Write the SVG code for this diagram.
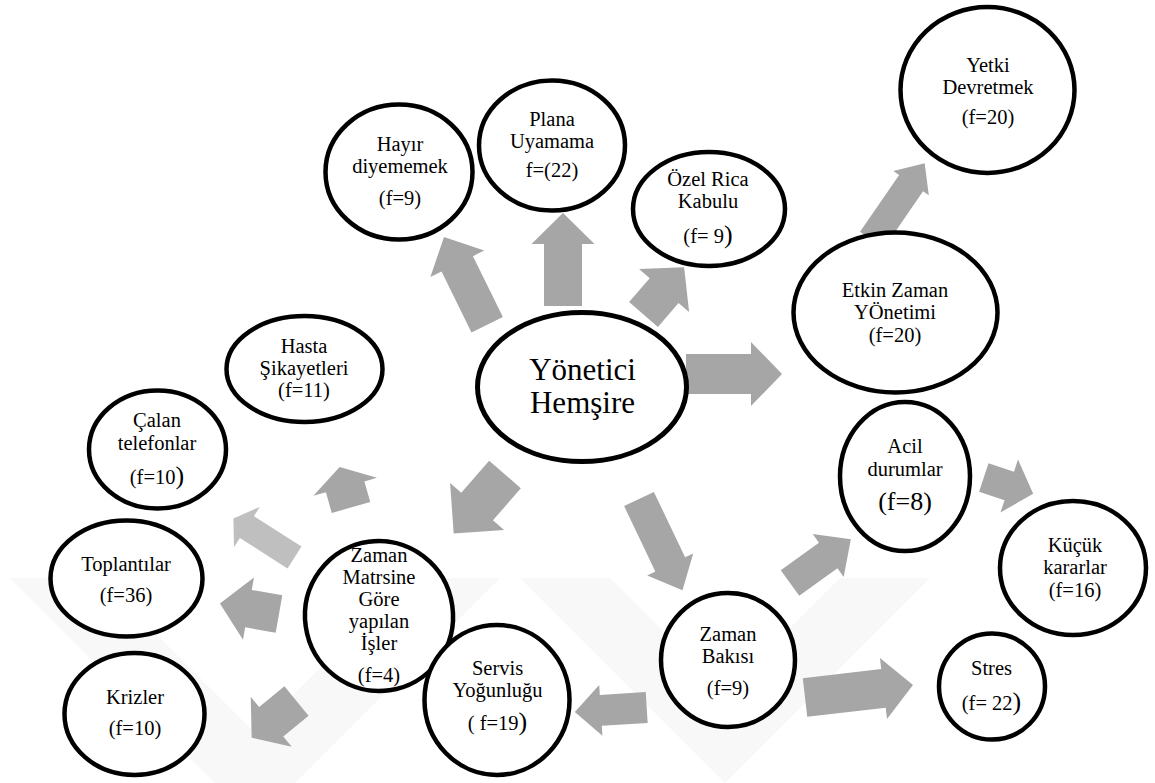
<svg xmlns="http://www.w3.org/2000/svg" width="1155" height="783" viewBox="0 0 1155 783">
<style>
.wm{fill:#f8f8f8;stroke:none}
.ar{fill:#a6a6a6;stroke:none}
.arl{fill:#bfbfbf;stroke:none}
.nd{fill:#ffffff;stroke:#000000;stroke-width:4.5}
.tx{font-size:20.5px;fill:#000;text-anchor:middle}
.big{font-size:31px}
.par{font-size:26px}
</style>
<rect width="1155" height="783" fill="#ffffff"/>
<g id="watermark">
<polygon class="wm" points="10,578 100,578 255,733 410,578 500,578 295,783 215,783"/>
<polygon class="wm" points="520,578 610,578 725,693 840,578 930,578 725,783"/>
</g>
<g id="connectors">
<polygon class="ar" transform="translate(487.2,324.7) rotate(-116.2)" points="0,-17.5 67.8,-17.5 67.8,-30 97.8,0 67.8,30 67.8,17.5 0,17.5"/>
<polygon class="ar" transform="translate(563,306) rotate(-90)" points="0,-19 62,-19 62,-31.5 93,0 62,31.5 62,19 0,19"/>
<polygon class="ar" transform="translate(643.5,314.5) rotate(-49.3)" points="0,-19 31.6,-19 31.6,-33 62.3,0 31.6,33 31.6,19 0,19"/>
<polygon class="ar" transform="translate(686,374) rotate(0)" points="0,-20 65,-20 65,-32 96,0 65,32 65,20 0,20"/>
<polygon class="ar" transform="translate(872,240) rotate(-55.5)" points="0,-14.5 69,-14.5 69,-21.5 93,0 69,21.5 69,14.5 0,14.5"/>
<polygon class="ar" transform="translate(505,474.5) rotate(131)" points="0,-21 42.5,-21 42.5,-35.8 78.2,0 42.5,35.8 42.5,21 0,21"/>
<polygon class="ar" transform="translate(639,499) rotate(64.5)" points="0,-16.5 72.5,-16.5 72.5,-25.5 101,0 72.5,25.5 72.5,16.5 0,16.5"/>
<polygon class="ar" transform="translate(351,507.5) rotate(254.3)" points="0,-20 21.5,-20 21.5,-33 42,0 21.5,33 21.5,20 0,20"/>
<polygon class="arl" transform="translate(294.5,557.5) rotate(212.6)" points="0,-13 56.5,-13 56.5,-24 72.5,0 56.5,24 56.5,13 0,13"/>
<polygon class="ar" transform="translate(279,614) rotate(190)" points="0,-19 31,-19 31,-31.5 60,0 31,31.5 31,19 0,19"/>
<polygon class="ar" transform="translate(296.5,701) rotate(140.6)" points="0,-19 32.7,-19 32.7,-32.3 58,0 32.7,32.3 32.7,19 0,19"/>
<polygon class="ar" transform="translate(646.7,707.5) rotate(176.4)" points="0,-15.5 46,-15.5 46,-25.5 72,0 46,25.5 46,15.5 0,15.5"/>
<polygon class="ar" transform="translate(805,697.5) rotate(-6.6)" points="0,-19.5 79,-19.5 79,-30.7 108.7,0 79,30.7 79,19.5 0,19.5"/>
<polygon class="ar" transform="translate(790,583) rotate(-35.8)" points="0,-15.8 47.1,-15.8 47.1,-26.5 75,0 47.1,26.5 47.1,15.8 0,15.8"/>
<polygon class="ar" transform="translate(983.8,477.5) rotate(18.3)" points="0,-15 26.8,-15 26.8,-27.9 52,0 26.8,27.9 26.8,15 0,15"/>
</g>
<g font-family="'Liberation Serif', 'Times New Roman', 'DejaVu Serif', serif">
<g id="yonetici">
<ellipse class="nd" cx="582" cy="387" rx="104.5" ry="74.5" style="stroke-width:5"/>
<text class="tx big" x="582.5" y="380">Yönetici</text>
<text class="tx big" x="582.5" y="413">Hemşire</text>
</g>
<g id="hayir">
<ellipse class="nd" cx="399" cy="172" rx="73.5" ry="67.5"/>
<text class="tx" x="400" y="151">Hayır</text>
<text class="tx" x="400" y="173">diyememek</text>
<text class="tx" x="400" y="205">(f=9)</text>
</g>
<g id="plana">
<ellipse class="nd" cx="552" cy="145.5" rx="73" ry="65"/>
<text class="tx" x="552" y="126">Plana</text>
<text class="tx" x="552" y="148">Uyamama</text>
<text class="tx" x="552" y="177">f=(22)</text>
</g>
<g id="ozel">
<ellipse class="nd" cx="709" cy="209" rx="76" ry="57"/>
<text class="tx" x="708" y="186">Özel Rica</text>
<text class="tx" x="708" y="208">Kabulu</text>
<text class="tx" x="708" y="243">(f= 9<tspan class="par">)</tspan></text>
</g>
<g id="yetki">
<ellipse class="nd" cx="987.5" cy="90" rx="87" ry="83"/>
<text class="tx" x="988" y="72">Yetki</text>
<text class="tx" x="988" y="94">Devretmek</text>
<text class="tx" x="988" y="124">(f=20)</text>
</g>
<g id="etkin">
<ellipse class="nd" cx="895.5" cy="312.5" rx="102" ry="80"/>
<text class="tx" x="895" y="297">Etkin Zaman</text>
<text class="tx" x="895" y="319">YÖnetimi</text>
<text class="tx" x="895" y="342">(f=20)</text>
</g>
<g id="hasta">
<ellipse class="nd" cx="304.5" cy="369" rx="78" ry="53"/>
<text class="tx" x="304" y="353">Hasta</text>
<text class="tx" x="304" y="375">Şikayetleri</text>
<text class="tx" x="304" y="397">(f=11)</text>
</g>
<g id="calan">
<ellipse class="nd" cx="157.5" cy="449.5" rx="68.5" ry="59"/>
<text class="tx" x="157" y="427">Çalan</text>
<text class="tx" x="157" y="450">telefonlar</text>
<text class="tx" x="157" y="484">(f=10<tspan class="par">)</tspan></text>
</g>
<g id="toplantilar">
<ellipse class="nd" cx="126.5" cy="578.5" rx="76" ry="58"/>
<text class="tx" x="126" y="571">Toplantılar</text>
<text class="tx" x="126" y="602">(f=36)</text>
</g>
<g id="krizler">
<ellipse class="nd" cx="134.5" cy="714" rx="70" ry="61"/>
<text class="tx" x="135" y="704">Krizler</text>
<text class="tx" x="135" y="735">(f=10)</text>
</g>
<g id="matrsine">
<ellipse class="nd" cx="379" cy="616" rx="74" ry="75" transform="rotate(-8 379 616)"/>
<text class="tx" x="379" y="562">Zaman</text>
<text class="tx" x="379" y="584">Matrsine</text>
<text class="tx" x="379" y="606">Göre</text>
<text class="tx" x="379" y="628">yapılan</text>
<text class="tx" x="379" y="650">İşler</text>
<text class="tx" x="379" y="682">(f=4)</text>
</g>
<g id="servis">
<ellipse class="nd" cx="497" cy="700" rx="72.5" ry="75"/>
<text class="tx" x="497.5" y="675">Servis</text>
<text class="tx" x="497.5" y="697">Yoğunluğu</text>
<text class="tx" x="497.5" y="730">( f=19<tspan class="par">)</tspan></text>
</g>
<g id="bakisi">
<ellipse class="nd" cx="728" cy="660" rx="67" ry="67"/>
<text class="tx" x="728" y="641">Zaman</text>
<text class="tx" x="728" y="663">Bakısı</text>
<text class="tx" x="728" y="695">(f=9)</text>
</g>
<g id="acil">
<ellipse class="nd" cx="905" cy="476.5" rx="65" ry="74.5"/>
<text class="tx" x="905" y="453">Acil</text>
<text class="tx" x="905" y="476">durumlar</text>
<text class="tx par" x="905" y="510">(f=8)</text>
</g>
<g id="kucuk">
<ellipse class="nd" cx="1073" cy="568" rx="73" ry="67"/>
<text class="tx" x="1075" y="552">Küçük</text>
<text class="tx" x="1075" y="574">kararlar</text>
<text class="tx" x="1075" y="597">(f=16)</text>
</g>
<g id="stres">
<ellipse class="nd" cx="992" cy="686.5" rx="53" ry="53"/>
<text class="tx" x="991.5" y="675">Stres</text>
<text class="tx" x="991.5" y="710">(f= 22<tspan class="par">)</tspan></text>
</g>
</g>
</svg>
